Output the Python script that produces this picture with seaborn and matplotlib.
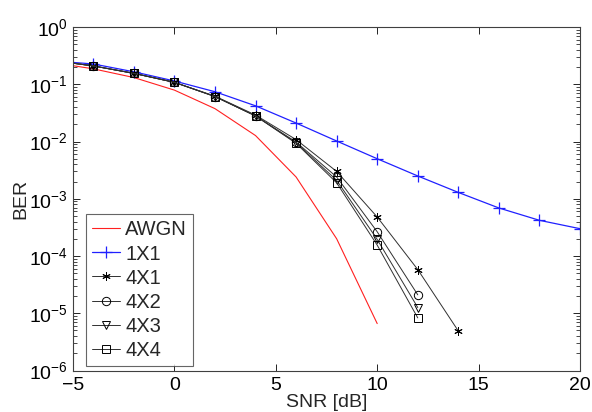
import numpy as np
import pandas as pd
import matplotlib
matplotlib.use('Agg')
import matplotlib.pyplot as plt
import seaborn as sns
from matplotlib.ticker import LogLocator, NullFormatter, FixedLocator

snr_awgn = [-6, -4, -2, 0, 2, 4, 6, 8, 10]
ber_awgn = [0.239, 0.186, 0.131, 0.079, 0.0375, 0.0127, 0.0024, 2.0e-4, 6.6e-6]

snr_1x1 = [-6, -4, -2, 0, 2, 4, 6, 8, 10, 12, 14, 16, 18, 20]
ber_1x1 = [0.256, 0.226, 0.165, 0.114, 0.074, 0.042, 0.021, 0.0102, 0.0050,
           0.0025, 0.00129, 6.9e-4, 4.2e-4, 3.0e-4]

snr_4x1 = [-6, -4, -2, 0, 2, 4, 6, 8, 10, 12, 14]
ber_4x1 = [0.26, 0.209, 0.155, 0.108, 0.062, 0.029, 0.0108, 0.0030, 4.8e-4, 5.8e-5, 4.9e-6]

snr_4xn = [-6, -4, -2, 0, 2, 4, 6, 8, 10, 12]
ber_4x2 = [0.26, 0.209, 0.155, 0.108, 0.061, 0.028, 0.0098, 0.0024, 2.65e-4, 2.1e-5]
ber_4x3 = [0.26, 0.209, 0.155, 0.108, 0.061, 0.028, 0.0095, 0.0021, 1.95e-4, 1.26e-5]
ber_4x4 = [0.26, 0.209, 0.155, 0.108, 0.061, 0.028, 0.0093, 0.0019, 1.55e-4, 8.3e-6]

sns.set_style('ticks')
plt.rcParams['font.family'] = ['Liberation Sans', 'DejaVu Sans']
plt.rcParams['mathtext.fontset'] = 'custom'
plt.rcParams['mathtext.rm'] = 'Liberation Sans'
plt.rcParams['mathtext.it'] = 'Liberation Sans'

fig = plt.figure(figsize=(5.92, 4.12), dpi=100)
ax = fig.add_axes([73 / 592, 1 - 370.5 / 412, 507 / 592, 343.5 / 412])

asterisk = (6, 2, 0)
blue = '#2020ff'
sns.lineplot(x=snr_awgn, y=ber_awgn, ax=ax, color='#ff2020', lw=0.8, label='AWGN')
sns.lineplot(x=snr_1x1, y=ber_1x1, ax=ax, color=blue, lw=0.9, marker='+',
             markersize=8, mew=0.9, mec=blue, label='1X1')
black = '#303030'
for xs, ys, m, lab in [(snr_4x1, ber_4x1, asterisk, '4X1'),
                       (snr_4xn, ber_4x2, 'o', '4X2'),
                       (snr_4xn, ber_4x3, 'v', '4X3'),
                       (snr_4xn, ber_4x4, 's', '4X4')]:
    sns.lineplot(x=xs, y=ys, ax=ax, color=black, lw=0.7, marker=m, markersize=6,
                 mfc='none', mec='black', mew=0.7, label=lab)

ax.set_yscale('log')
ax.set_xlim(-5, 20)
ax.set_ylim(1e-6, 1)
ax.xaxis.set_major_locator(FixedLocator([-5, 0, 5, 10, 15, 20]))
ax.yaxis.set_major_locator(LogLocator(base=10, numticks=10))
ax.yaxis.set_minor_locator(LogLocator(base=10, subs=np.arange(2, 10), numticks=10))
ax.yaxis.set_minor_formatter(NullFormatter())
ax.tick_params(which='both', direction='in', top=True, right=True, labelsize=14, colors='black')
ax.tick_params(which='major', length=5, width=0.6)
ax.tick_params(which='minor', length=3, width=0.5)
ax.tick_params(axis='x', pad=5)
for s in ax.spines.values():
    s.set_color('#404040')
    s.set_linewidth(0.8)

ax.set_xlabel('SNR [dB]', fontsize=14, labelpad=0)
ax.set_ylabel('BER', fontsize=14, labelpad=0)

leg = ax.legend(loc='lower left', bbox_to_anchor=(0.026, 0.014), borderaxespad=0,
                fontsize=14.5, frameon=True, fancybox=False, handlelength=1.4,
                labelspacing=0.25, handletextpad=0.25, borderpad=0.3)
leg.get_frame().set_edgecolor('#404040')
leg.get_frame().set_linewidth(0.8)

fig.savefig('out.png', dpi=100, facecolor='white')
